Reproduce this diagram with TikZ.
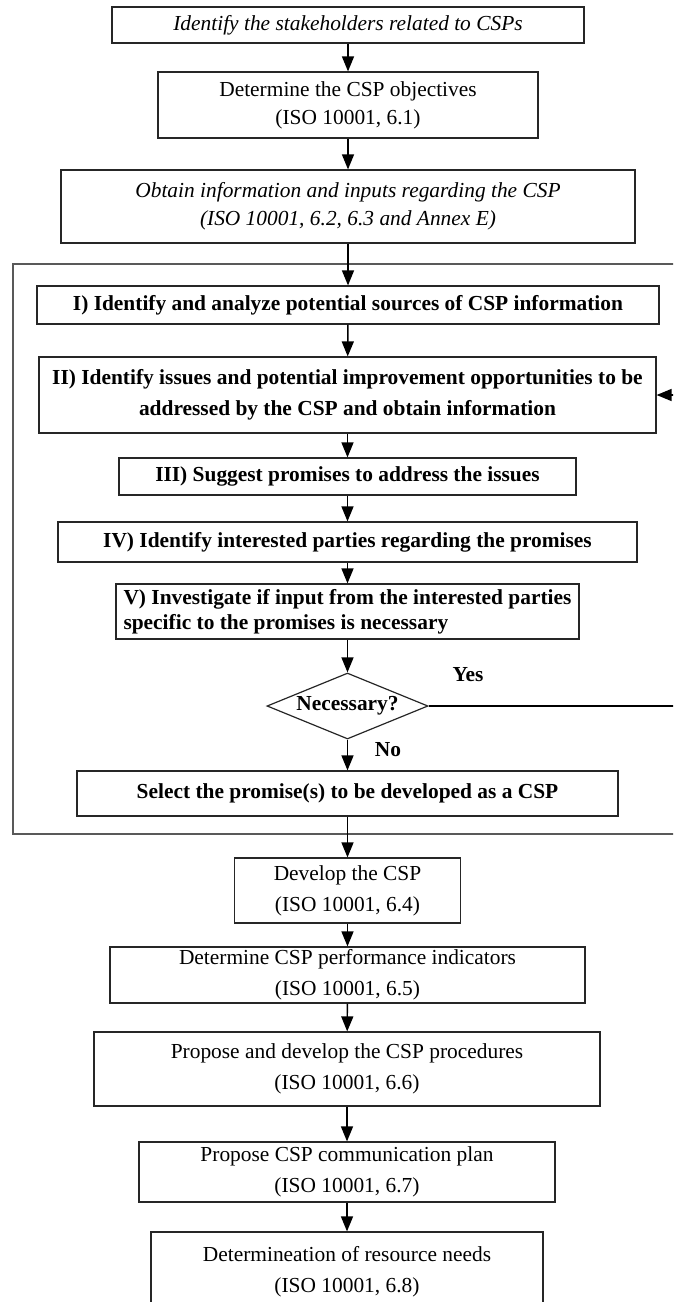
\documentclass[tikz,border=0pt]{standalone}
\usepackage{fontspec}
\setmainfont{Liberation Serif}
\usetikzlibrary{arrows.meta,shapes.geometric}

\begin{document}
\begin{tikzpicture}[x=1pt,y=-1pt,
          every node/.style={inner sep=0pt,align=center,
                             font=\fontsize{21.4}{31}\selectfont},
          stepbox/.style={draw=black!85,line width=1.2pt,rectangle},
          boldbox/.style={stepbox,font=\fontsize{21.4}{31}\selectfont\bfseries},
          decision/.style={draw=black!85,line width=1.2pt,diamond,aspect=2.44,
                           font=\fontsize{21.4}{31}\selectfont\bfseries},
          answer/.style={font=\fontsize{21.4}{31}\selectfont\bfseries},
          flow/.style={draw=black,line width=1.4pt,
                       -{Triangle[length=15pt,width=12pt]}},
          framebox/.style={draw=black!65,line width=1.5pt}]
        \useasboundingbox (0,0) rectangle (673,1302);
        \clip (0,0) rectangle (673,1302);
        % preparation
        \node[stepbox,minimum width=472,minimum height=36,font=\fontsize{21.4}{31}\selectfont\itshape]
            (stake) at (348,25) {Identify the stakeholders related to CSPs};
        \node[stepbox,minimum width=380,minimum height=66,font=\fontsize{21.4}{28}\selectfont]
            (obj) at (348,105) {Determine the CSP objectives\\(ISO 10001, 6.1)};
        \node[stepbox,minimum width=574,minimum height=73,font=\fontsize{21.4}{28}\selectfont\itshape]
            (info) at (348,206.5) {Obtain information and inputs regarding the CSP\\(ISO 10001, 6.2, 6.3 and Annex E)};
        % selection loop
        \coordinate (frameNW) at (13,264);
        \coordinate (frameSE) at (700,834);
        \draw[framebox] (frameNW) rectangle (frameSE);
        \node[boldbox,minimum width=622,minimum height=38] (src) at (348,305)
            {I) Identify and analyze potential sources of CSP information};
        \node[boldbox,minimum width=617,minimum height=76] (issue) at (347.5,395)
            {II) Identify issues and potential improvement opportunities to be\\addressed by the CSP and obtain information};
        \node[boldbox,minimum width=457,minimum height=37] (sugg) at (347.5,476.5)
            {III) Suggest promises to address the issues};
        \node[boldbox,minimum width=579,minimum height=40] (party) at (347.5,542)
            {IV) Identify interested parties regarding the promises};
        \node[boldbox,minimum width=463,minimum height=55,align=left,
              font=\fontsize{21.4}{25}\selectfont\bfseries] (invest) at (347.5,611.5)
            {V) Investigate if input from the interested parties\\specific to the promises is necessary};
        \node[decision,minimum width=161,minimum height=66] (need) at (347.5,706) {Necessary?};
        \node[answer] (yes) at (468,675) {Yes};
        \node[answer] (no) at (388,750) {No};
        \node[boldbox,minimum width=541,minimum height=45] (select) at (347.5,793.5)
            {Select the promise(s) to be developed as a CSP};
        \coordinate (loop) at (690,706);
        % development
        \node[stepbox,minimum width=226,minimum height=65] (dev) at (347.5,890.5)
            {Develop the CSP\\(ISO 10001, 6.4)};
        \node[stepbox,minimum width=475,minimum height=56] (kpi) at (347.5,975)
            {Determine CSP performance indicators\\(ISO 10001, 6.5)};
        \node[stepbox,minimum width=506,minimum height=74] (proc) at (347,1069)
            {Propose and develop the CSP procedures\\(ISO 10001, 6.6)};
        \node[stepbox,minimum width=416,minimum height=60] (comm) at (347,1172)
            {Propose CSP communication plan\\(ISO 10001, 6.7)};
        \node[stepbox,minimum width=392,minimum height=80] (res) at (347,1272)
            {Determineation of resource needs\\(ISO 10001, 6.8)};
        \draw[flow] (stake)--(obj);
        \draw[flow] (obj)--(info);
        \draw[flow] (info)--(src);
        \draw[flow] (src)--(issue);
        \draw[flow] (issue)--(sugg);
        \draw[flow] (sugg)--(party);
        \draw[flow] (party)--(invest);
        \draw[flow] (invest)--(need);
        \draw[flow] (need)--(select);
        \draw[flow] (need.east)--(loop)|-(issue.east);
        \draw[flow] (select)--(dev);
        \draw[flow] (dev)--(kpi);
        \draw[flow] (kpi)--(proc);
        \draw[flow] (proc)--(comm);
        \draw[flow] (comm)--(res);
      \end{tikzpicture}
\end{document}
